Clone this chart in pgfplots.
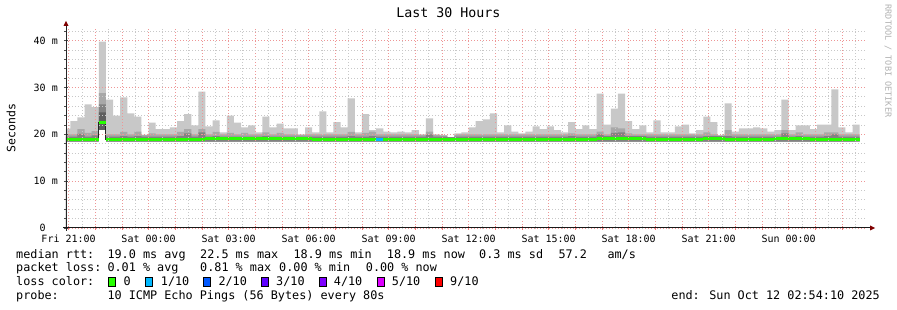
\documentclass[border=0pt]{standalone}
\usepackage{fontspec}
\setmainfont{DejaVu Sans Mono}
\usepackage{pgfplots}
\usepackage{pgfplotstable}
\pgfplotsset{compat=1.18}
\definecolor{smokeA}{RGB}{200,200,200}
\definecolor{smokeB}{RGB}{168,168,168}
\definecolor{smokeC}{RGB}{130,130,130}
\definecolor{smokeD}{RGB}{95,95,95}
\definecolor{lossA}{HTML}{26FF00}
\definecolor{lossB}{HTML}{00B8FF}
\definecolor{lossC}{HTML}{0059FF}
\definecolor{lossD}{HTML}{5E00FF}
\definecolor{lossE}{HTML}{7E00FF}
\definecolor{lossF}{HTML}{DD00FF}
\definecolor{lossG}{HTML}{FF0000}
\definecolor{gridmaj}{RGB}{238,150,150}
\definecolor{gridmin}{RGB}{200,200,200}
\definecolor{arrowred}{RGB}{128,0,0}
\newcommand\lgf{\fontsize{11.8}{14}\selectfont}
\newcommand\axf{\fontsize{10}{12}\selectfont}

\pgfplotstableread{
x top mid dark dk lo med
0 21.2 20.0 19.5 0 18.4 19.0
0.164 22.8 20.0 19.5 0 18.4 19.0
0.431 23.6 21.1 20.1 0 18.4 19.0
0.697 26.4 20.3 19.5 0 18.4 19.0
0.964 25.8 20.7 19.8 0 18.4 19.0
1.231 39.8 28.8 26.4 24.7 20.9 22.5
1.497 27.4 20.0 19.5 0 18.4 19.0
1.764 24.0 20.0 19.5 0 18.4 19.0
2.031 27.9 20.5 19.6 0 18.4 19.0
2.297 24.5 20.0 19.5 0 18.4 19.0
2.564 23.8 20.6 19.6 0 18.4 19.0
2.831 19.9 19.9 19.5 0 18.4 19.0
3.097 22.5 20.2 19.5 0 18.4 19.0
3.364 21.1 20.0 19.5 0 18.4 19.0
3.631 21.1 20.0 19.5 0 18.4 19.0
3.897 21.5 20.0 19.5 0 18.4 19.0
4.164 22.8 20.5 19.6 0 18.4 19.0
4.431 24.3 21.1 20.2 0 18.4 19.0
4.697 21.9 20.0 19.5 0 18.4 19.0
4.964 29.1 21.1 20.4 0 18.4 19.0
5.231 21.7 20.0 19.5 0 18.4 19.1
5.497 23.0 20.5 19.6 0 18.4 19.1
5.764 20.4 20.0 19.5 0 18.4 19.1
6.031 24.0 20.3 19.5 0 18.4 19.1
6.297 22.5 20.0 19.5 0 18.4 19.1
6.564 21.5 20.3 19.5 0 18.4 19.1
6.831 21.9 20.0 19.5 0 18.4 19.1
7.097 20.4 20.0 19.5 0 18.4 19.1
7.364 23.8 20.4 19.6 0 18.4 19.1
7.631 21.5 20.0 19.5 0 18.4 19.1
7.897 22.3 20.3 19.5 0 18.4 19.1
8.164 21.3 20.0 19.5 0 18.4 19.1
8.431 21.3 20.0 19.5 0 18.4 19.1
8.697 20.0 19.9 19.5 0 18.4 19.1
8.964 21.5 20.0 19.5 0 18.4 19.1
9.231 20.4 20.0 19.5 0 18.4 19.0
9.497 24.9 20.0 19.5 0 18.4 19.0
9.764 20.4 20.0 19.5 0 18.4 19.0
10.031 22.6 20.0 19.5 0 18.4 19.0
10.297 21.5 20.0 19.5 0 18.4 19.0
10.564 27.7 20.5 19.6 0 18.4 19.0
10.831 20.4 20.0 19.5 0 18.4 19.0
11.097 24.3 20.3 19.5 0 18.4 19.0
11.364 20.9 20.6 19.6 0 18.4 19.0
11.631 21.3 20.0 19.5 0 18.4 19.0
11.897 20.6 20.0 19.5 0 18.4 19.0
12.164 20.4 20.0 19.5 0 18.4 19.0
12.431 20.6 20.0 19.5 0 18.4 19.0
12.697 20.4 20.0 19.5 0 18.4 19.0
12.964 20.9 20.0 19.5 0 18.4 19.0
13.231 20.0 19.9 19.5 0 18.4 19.0
13.497 23.4 20.6 20.0 0 18.4 19.0
13.764 20.0 19.9 19.5 0 18.4 19.0
14.031 19.8 19.8 19.5 0 18.4 19.0
14.297 19.4 19.4 19.4 0 18.4 19.0
14.564 20.2 20.0 19.5 0 18.4 19.0
14.831 20.4 20.0 19.5 0 18.4 19.0
15.097 21.5 20.0 19.5 0 18.4 19.0
15.364 22.8 20.0 19.5 0 18.4 19.0
15.631 23.2 20.0 19.5 0 18.4 19.0
15.897 24.5 20.0 19.5 0 18.4 18.9
16.164 20.4 20.0 19.5 0 18.4 18.9
16.431 21.9 20.0 19.5 0 18.4 18.9
16.697 20.6 20.0 19.5 0 18.4 18.9
16.964 20.2 20.0 19.5 0 18.4 18.9
17.231 20.6 20.0 19.5 0 18.4 18.9
17.497 21.7 20.0 19.5 0 18.4 18.9
17.764 21.1 20.0 19.5 0 18.4 18.9
18.031 21.7 20.0 19.5 0 18.4 18.9
18.297 20.9 20.0 19.5 0 18.4 18.9
18.564 20.4 20.0 19.5 0 18.4 18.9
18.831 22.6 20.2 19.6 0 18.4 18.9
19.097 21.1 20.0 19.5 0 18.4 18.9
19.364 21.9 20.0 19.5 0 18.4 18.9
19.631 21.1 20.0 19.5 0 18.4 18.9
19.897 28.7 20.6 20.0 0 18.4 19.2
20.164 22.1 20.0 19.6 0 18.4 19.2
20.431 25.5 21.5 20.3 0 18.4 19.2
20.697 28.7 21.3 20.4 0 18.4 19.2
20.964 22.8 20.2 19.6 0 18.4 19.2
21.231 21.1 20.0 19.6 0 18.4 19.2
21.497 21.9 20.0 19.6 0 18.4 19.2
21.764 20.4 20.0 19.5 0 18.4 19.0
22.031 23.0 20.0 19.5 0 18.4 19.0
22.297 20.4 20.0 19.5 0 18.4 19.0
22.564 20.4 20.0 19.5 0 18.4 19.0
22.831 21.7 20.0 19.5 0 18.4 19.0
23.097 22.1 20.0 19.5 0 18.4 19.0
23.364 20.2 20.0 19.5 0 18.4 19.0
23.631 20.9 20.0 19.5 0 18.4 19.0
23.897 23.8 20.4 19.6 0 18.4 19.2
24.164 22.6 20.0 19.6 0 18.4 19.2
24.431 19.8 19.8 19.6 0 18.4 19.2
24.697 26.6 20.9 19.6 0 18.4 18.9
24.964 20.6 20.0 19.5 0 18.4 18.9
25.231 21.3 20.0 19.5 0 18.4 18.9
25.497 21.3 20.0 19.5 0 18.4 18.9
25.764 21.5 20.0 19.5 0 18.4 18.9
26.031 21.3 20.0 19.5 0 18.4 18.9
26.297 20.6 20.0 19.5 0 18.4 18.9
26.564 20.9 20.0 19.5 0 18.4 19.1
26.831 27.4 20.9 20.2 0 18.4 19.1
27.097 20.9 20.0 19.5 0 18.4 19.1
27.364 21.9 20.4 19.6 0 18.4 19.1
27.631 21.9 20.0 19.5 0 18.4 19.1
27.897 21.1 20.0 19.5 0 18.4 19.0
28.164 22.1 20.0 19.5 0 18.4 19.0
28.431 22.1 20.4 19.6 0 18.4 19.0
28.697 29.6 20.4 20.0 0 18.4 19.0
28.964 21.5 20.0 19.5 0 18.4 19.0
29.231 20.4 20.0 19.5 0 18.4 19.0
29.497 22.1 20.0 19.5 0 18.4 19.0
29.764 22.1 20.0 19.5 0 18.4 19.0
}\smoke

\begin{document}
\begin{tikzpicture}[x=1pt,y=1pt]
\useasboundingbox[fill=white] (0,0) rectangle (897,310);
\begin{axis}[
  at={(66pt,82pt)}, anchor=south west,
  scale only axis, width=800pt, height=200pt,
  xmin=0, xmax=30, ymin=0, ymax=42.71,
  axis on top,
  axis line style={draw=none},
  tick pos=left,
  xtick={0.0972,1.0972,...,29.1},
  xticklabels={Fri 21:00,,,Sat 00:00,,,Sat 03:00,,,Sat 06:00,,,Sat 09:00,,,Sat 12:00,,,Sat 15:00,,,Sat 18:00,,,Sat 21:00,,,Sun 00:00,,},
  minor xtick={0.5972,1.5972,...,29.6},
  ytick={0,10,20,30,40},
  yticklabels={0\hphantom{\ m},10 m,20 m,30 m,40 m},
  minor ytick={2,4,6,8,12,14,16,18,22,24,26,28,32,34,36,38,42},
  grid=both,
  major grid style={gridmaj, dash pattern=on 1pt off 2pt, line width=0.8pt},
  minor grid style={gridmin, dash pattern=on 1pt off 2pt, line width=0.8pt},
  tick align=center, major tick length=4pt, minor tick length=3pt,
  major x tick style={color=gridmaj!80!red, line width=0.8pt},
  minor x tick style={color=gridmin, line width=0.8pt},
  ytick style={color=black!70, line width=0.8pt},
  xticklabel style={font=\axf, anchor=base, yshift=-12.7pt},
  yticklabel style={font=\axf, anchor=east, inner sep=0pt, xshift=-6pt},
  ylabel={Seconds},
  ylabel style={at={(rel axis cs:-0.06875,0.5)}, anchor=center, font=\fontsize{11.5}{13}\selectfont},
  title={Last 30 Hours},
  title style={at={(rel axis cs:0.478,1)}, anchor=base, yshift=4pt, font=\fontsize{13.3}{15}\selectfont},
  clip=true,
]
\addplot[const plot, draw=none, fill=smokeA] table[x=x,y=top]{\smoke} \closedcycle;
\addplot[const plot, draw=none, fill=smokeB] table[x=x,y=mid]{\smoke} \closedcycle;
\addplot[const plot, draw=none, fill=smokeC] table[x=x,y=dark]{\smoke} \closedcycle;
\addplot[const plot, draw=none, fill=smokeD] table[x=x,y=dk]{\smoke} \closedcycle;
\addplot[const plot, draw=none, fill=white] table[x=x,y=lo]{\smoke} \closedcycle;
\addplot[const plot, draw=none, fill=white] coordinates {(29.60,18.4) (29.95,18.4)} \closedcycle;
\addplot[const plot, color=black!85, line width=1pt] table[x=x,y=med]{\smoke};
\addplot[jump mark left, color=lossA, line width=3pt] table[x=x,y=med]{\smoke};
\addplot[jump mark left, color=lossB, line width=3pt] coordinates {(11.631,19.0) (11.897,19.0)};
\end{axis}
% axis lines and arrows
\draw[black!85, line width=1pt] (66,79) -- (66,285);
\fill[arrowred] (63.5,284) -- (68.5,284) -- (66,289) -- cycle;
\draw[black!90, line width=1pt] (63,82) -- (870,82);
\fill[arrowred] (870,79.5) -- (870,84.5) -- (875,82) -- cycle;
% watermark
\node[rotate=-90, anchor=center, text=black!30, font=\fontsize{8.5}{10}\selectfont, inner sep=0pt] at (888,249) {RRDTOOL / TOBI OETIKER};
% legend
\begin{scope}[every node/.style={anchor=base west, inner sep=0pt, font=\lgf}]
\node at (16,51.5) {median rtt:};
\node at (107.3,51.5) {19.0 ms avg};
\node at (200,51.5) {22.5 ms max};
\node at (293.3,51.5) {18.9 ms min};
\node at (386.7,51.5) {18.9 ms now};
\node at (479,51.5) {0.3 ms sd};
\node at (558.3,51.5) {57.2};
\node at (607.3,51.5) {am/s};
\node at (16,38) {packet loss:};
\node at (107.3,38) {0.01 \% avg};
\node at (200,38) {0.81 \% max};
\node at (279,38) {0.00 \% min};
\node at (365.7,38) {0.00 \% now};
\node at (16,24) {loss color:};
\node at (123.3,24) {0};
\node at (160.7,24) {1/10};
\node at (218.3,24) {2/10};
\node at (276,24) {3/10};
\node at (333.7,24) {4/10};
\node at (391.7,24) {5/10};
\node at (450,24) {9/10};
\node at (16,10.5) {probe:};
\node at (107.3,10.5) {10 ICMP Echo Pings (56 Bytes) every 80s};
\node[anchor=base east] at (880,10.5) {end: Sun Oct 12 02:54:10 2025};
\end{scope}
\foreach \c/\xx in {lossA/108,lossB/145.3,lossC/203,lossD/261,lossE/319,lossF/377,lossG/435}{
  \filldraw[fill=\c, draw=black, line width=0.6pt] (\xx,23.3) rectangle ++(7.3,9);
}
\end{tikzpicture}
\end{document}
